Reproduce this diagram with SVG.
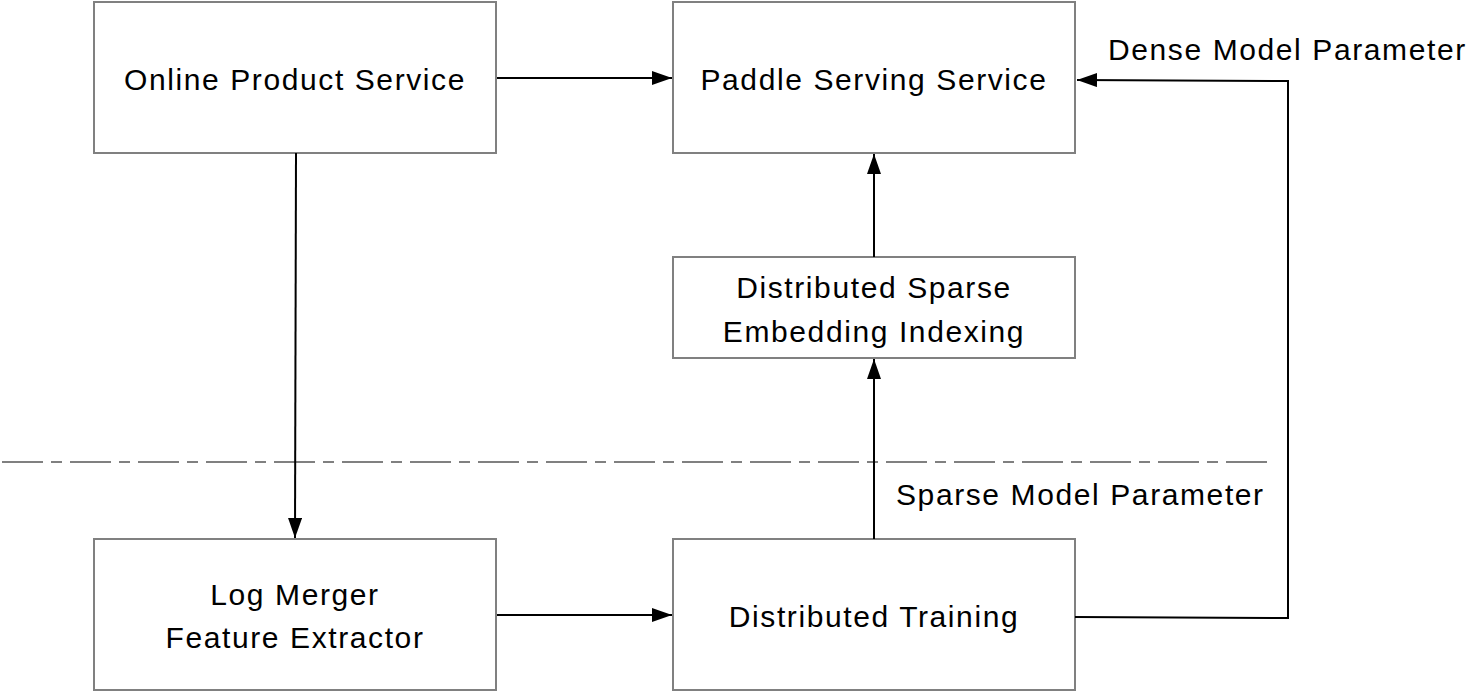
<svg xmlns="http://www.w3.org/2000/svg" width="1478" height="692" viewBox="0 0 1478 692">
<defs>
<style>
.box{fill:#fff;stroke:#808080;stroke-width:2}
.lbl{font-family:"Liberation Sans",Arial,sans-serif;font-size:30px;fill:#000;letter-spacing:1.6px}
.mid{text-anchor:middle}
.conn{fill:none;stroke:#000;stroke-width:2}
.sep{fill:none;stroke:#808080;stroke-width:2;stroke-dasharray:41 8 11 8}
</style>
<marker id="ah" viewBox="0 0 20 14" refX="20" refY="7" markerWidth="20" markerHeight="14" markerUnits="userSpaceOnUse" orient="auto">
<path d="M0,0 L20,7 L0,14 Z" fill="#000"/>
</marker>
</defs>
<rect width="1478" height="692" fill="#fff"/>
<line class="sep" x1="2" y1="462" x2="1267" y2="462"/>
<g id="online-product-service">
<rect class="box" x="94" y="2" width="402" height="151"/>
<text class="lbl mid" x="295" y="90">Online Product Service</text>
</g>
<g id="paddle-serving-service">
<rect class="box" x="673" y="2" width="402" height="151"/>
<text class="lbl mid" x="874" y="90">Paddle Serving Service</text>
</g>
<g id="distributed-sparse-embedding-indexing">
<rect class="box" x="673" y="257" width="402" height="101"/>
<text class="lbl mid" x="874" y="298">Distributed Sparse</text>
<text class="lbl mid" x="874" y="342">Embedding Indexing</text>
</g>
<g id="log-merger-feature-extractor">
<rect class="box" x="94" y="539" width="402" height="151"/>
<text class="lbl mid" x="295" y="605">Log Merger</text>
<text class="lbl mid" x="295" y="648">Feature Extractor</text>
</g>
<g id="distributed-training">
<rect class="box" x="673" y="539" width="402" height="151"/>
<text class="lbl mid" x="874" y="627">Distributed Training</text>
</g>
<g id="connectors">
<line class="conn" x1="497" y1="78" x2="672" y2="78" marker-end="url(#ah)"/>
<line class="conn" x1="296" y1="153" x2="295" y2="538" marker-end="url(#ah)"/>
<line class="conn" x1="497" y1="615" x2="672" y2="615" marker-end="url(#ah)"/>
<line class="conn" x1="874" y1="539" x2="874" y2="359" marker-end="url(#ah)"/>
<line class="conn" x1="874" y1="257" x2="874" y2="154" marker-end="url(#ah)"/>
<polyline class="conn" points="1075,617 1288,618 1288,81 1077,80" marker-end="url(#ah)"/>
<text class="lbl" x="1108" y="60">Dense Model Parameter</text>
<text class="lbl" x="896" y="505">Sparse Model Parameter</text>
</g>
</svg>
